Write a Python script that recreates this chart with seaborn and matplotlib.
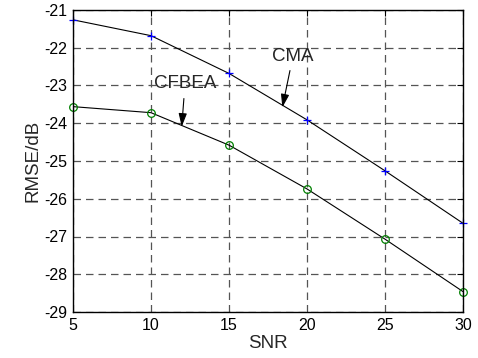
import matplotlib
matplotlib.use("Agg")
import matplotlib.pyplot as plt
import seaborn as sns
import pandas as pd

snr = [5, 10, 15, 20, 25, 30]
cma = [-21.26, -21.68, -22.68, -23.91, -25.26, -26.65]
cfbea = [-23.56, -23.72, -24.58, -25.74, -27.07, -28.46]
xticks = [5, 10, 15, 20, 25, 30]
yticks = [-29, -28, -27, -26, -25, -24, -23, -22, -21]

sns.set_style("white")
plt.rcParams['font.family'] = ['Liberation Sans', 'DejaVu Sans']
plt.rcParams['axes.unicode_minus'] = False

df = pd.DataFrame({"SNR": snr, "CMA": cma, "CFBEA": cfbea})

fig = plt.figure(figsize=(4.78, 3.58), dpi=100)
ax = fig.add_axes([73/478, 1 - 312/358, 390/478, 302/358])

sns.lineplot(data=df, x="SNR", y="CMA", ax=ax, color="black", lw=0.8)
sns.lineplot(data=df, x="SNR", y="CFBEA", ax=ax, color="black", lw=0.8)
ax.plot(df["SNR"], df["CMA"], ls="none", marker="+", ms=6, mew=0.9, color="blue", clip_on=False)
ax.plot(df["SNR"], df["CFBEA"], ls="none", marker="o", ms=5.5, mew=0.9, mfc="none", mec="green", clip_on=False)

ax.set_xlim(5, 30)
ax.set_ylim(-29, -21)
ax.set_xticks(xticks)
ax.set_yticks(yticks)
ax.grid(True, ls=(0, (6, 4)), color="#555555", lw=0.9)
for s in ax.spines.values():
    s.set_color("black")
    s.set_linewidth(1.0)
ax.tick_params(direction="in", length=4, top=True, right=True, labelsize=11.5, colors="black", pad=4)
ax.set_xlabel("SNR", fontsize=13.5, labelpad=2)
ax.set_ylabel("RMSE/dB", fontsize=13.5, labelpad=2)

arrow = dict(arrowstyle="-|>,head_length=0.8,head_width=0.25", color="black", lw=0.8,
             mutation_scale=10, shrinkA=2, shrinkB=0)
ax.annotate("CFBEA", xy=(11.97, -24.09), xytext=(12.18, -22.96), ha="center", va="center",
            fontsize=13.5, arrowprops=arrow)
ax.annotate("CMA", xy=(18.42, -23.58), xytext=(19.1, -22.22), ha="center", va="center",
            fontsize=13.5, arrowprops=arrow)

fig.savefig("out.png", dpi=100, facecolor="white")
